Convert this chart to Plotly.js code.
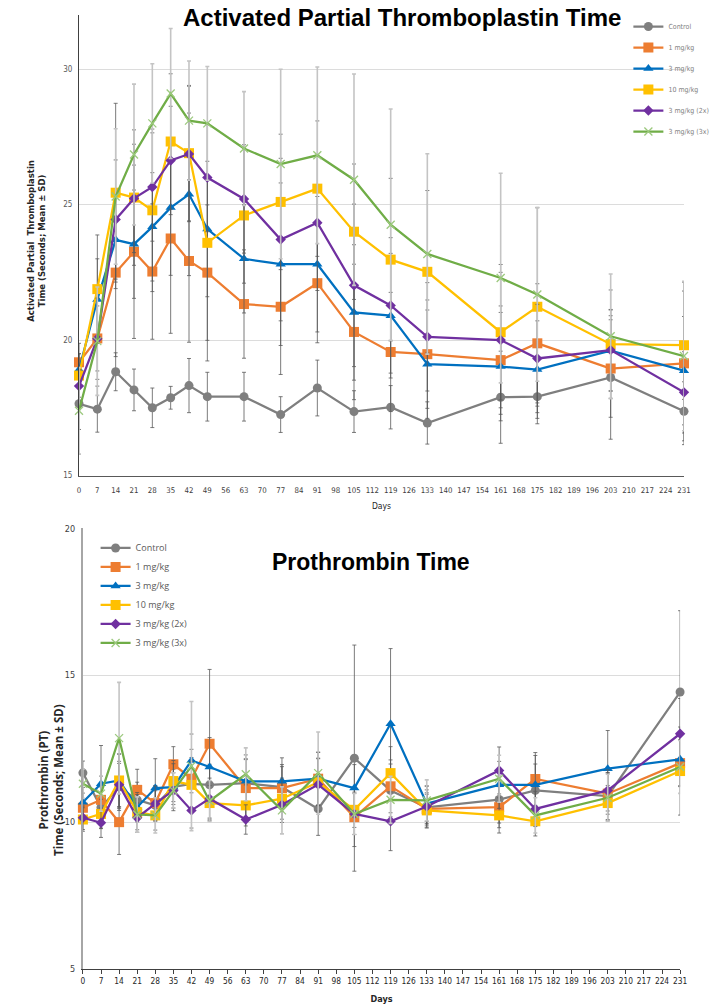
<!DOCTYPE html>
<html>
<head>
<meta charset="utf-8">
<script src="https://cdn.plot.ly/plotly-3.0.1.min.js"></script>
<style>html,body{margin:0;padding:0;background:#fff;}#chart{width:726px;height:1008px;}</style>
</head>
<body>
<div id="chart"></div>
<script>
// ---------- DATA ----------
const seriesNames = ['Control', '1 mg/kg', '3 mg/kg', '10 mg/kg', '3 mg/kg (2x)', '3 mg/kg (3x)'];
const days = [0, 7, 14, 21, 28, 35, 42, 49, 63, 77, 91, 105, 119, 133, 161, 175, 203, 231];
const dayTicks = [0, 7, 14, 21, 28, 35, 42, 49, 56, 63, 70, 77, 84, 91, 98, 105, 112, 119, 126, 133, 140, 147, 154, 161, 168, 175, 182, 189, 196, 203, 210, 217, 224, 231];
const dayTickLabels = ['0','7','14','21','28','35','42','49','56','63','70','77','84','91','98','105','112','119','126','133','140','147','154','161','168','175','182','189','196','203','210','217','224','231'];

// APTT (seconds, mean)
const apttControl = [17.65, 17.45, 18.83, 18.16, 17.5, 17.87, 18.32, 17.91, 17.91, 17.25, 18.23, 17.36, 17.52, 16.94, 17.89, 17.91, 18.62, 17.37];
const aptt1 = [19.18, 20.06, 22.49, 23.26, 22.53, 23.75, 22.92, 22.49, 21.33, 21.23, 22.1, 20.3, 19.56, 19.48, 19.26, 19.88, 18.95, 19.14];
const aptt3 = [18.9, 21.5, 23.7, 23.54, 24.18, 24.89, 25.38, 24.1, 23.0, 22.8, 22.8, 21.02, 20.9, 19.11, 19.02, 18.91, 19.61, 18.87];
const aptt10 = [18.69, 21.88, 25.44, 25.26, 24.79, 27.33, 26.9, 23.59, 24.6, 25.1, 25.59, 24.0, 22.97, 22.52, 20.29, 21.23, 19.85, 19.81];
const aptt3x2 = [18.3, 20.05, 24.45, 25.23, 25.65, 26.63, 26.87, 26.0, 25.21, 23.71, 24.33, 22.02, 21.28, 20.12, 20.0, 19.32, 19.63, 18.07];
const aptt3x3 = [17.39, 19.96, 25.3, 26.85, 28.0, 29.1, 28.1, 28.0, 27.07, 26.5, 26.82, 25.92, 24.26, 23.18, 22.29, 21.68, 20.14, 19.41];
// APTT SD
const apttControlSd = [0.95, 0.85, 0.7, 0.77, 0.73, 0.42, 1.0, 0.9, 0.9, 0.66, 1.03, 0.77, 0.8, 0.78, 1.7, 1.0, 2.28, 1.09];
const aptt1Sd = [0.7, 1.2, 3.1, 3.2, 2.5, 3.5, 3.0, 2.5, 2.0, 2.5, 2.2, 2.5, 2.2, 2.0, 2.0, 2.2, 1.8, 3.0];
const aptt3Sd = [0.6, 1.5, 1.8, 2.0, 2.0, 2.5, 3.0, 2.5, 2.0, 3.0, 2.5, 2.5, 2.3, 2.0, 2.0, 1.8, 1.5, 2.0];
const aptt10Sd = [0.8, 2.0, 3.3, 2.5, 3.0, 2.5, 2.5, 4.36, 2.5, 2.5, 2.5, 2.5, 3.0, 3.0, 2.5, 3.67, 2.0, 2.0];
const aptt3x2Sd = [0.6, 1.5, 2.2, 2.0, 2.0, 2.0, 2.5, 2.0, 2.0, 3.0, 2.5, 3.0, 2.5, 2.0, 2.5, 2.0, 1.5, 1.5];
const aptt3x3Sd = [1.6, 2.0, 2.5, 2.6, 2.2, 2.4, 2.2, 2.1, 2.1, 3.5, 3.26, 3.9, 4.27, 3.7, 3.87, 3.2, 2.3, 2.76];

// PT (seconds, mean)
const ptControl = [11.68, 10.5, 11.2, 10.76, 10.57, 11.2, 11.3, 11.27, 11.33, 11.19, 10.45, 12.18, 11.08, 10.5, 10.77, 11.08, 10.89, 14.43];
const pt1 = [10.49, 10.76, 10.0, 11.1, 10.65, 11.97, 11.48, 12.67, 11.16, 11.16, 11.48, 10.17, 11.22, 10.45, 10.51, 11.47, 10.97, 12.01];
const pt3 = [10.68, 11.31, 11.42, 10.51, 11.16, 11.19, 12.1, 11.88, 11.39, 11.39, 11.48, 11.16, 13.35, 10.63, 11.27, 11.27, 11.82, 12.14];
const pt10 = [10.09, 10.28, 11.42, 10.34, 10.23, 11.4, 11.27, 10.65, 10.57, 10.8, 11.36, 10.42, 11.67, 10.4, 10.23, 10.03, 10.65, 11.74];
const pt3x2 = [10.15, 9.98, 11.27, 10.15, 10.63, 11.08, 10.4, 10.8, 10.09, 10.59, 11.28, 10.28, 10.03, 10.53, 11.76, 10.45, 11.08, 13.01];
const pt3x3 = [11.31, 10.97, 12.86, 10.26, 10.23, 11.08, 11.91, 10.72, 11.63, 10.4, 11.67, 10.28, 10.76, 10.74, 11.48, 10.23, 10.83, 11.88];
// PT SD
const ptControlSd = [0.4, 0.7, 0.8, 0.6, 0.5, 0.6, 0.9, 0.7, 0.8, 0.7, 0.9, 3.85, 0.9, 0.6, 0.8, 0.9, 0.8, 2.77];
const pt1Sd = [0.5, 0.8, 1.1, 0.7, 0.6, 0.6, 1.0, 2.53, 1.0, 0.8, 0.9, 1.0, 0.9, 0.5, 0.7, 0.9, 0.7, 0.8];
const pt3Sd = [0.5, 1.3, 0.9, 0.5, 1.0, 0.8, 0.9, 1.0, 0.9, 0.8, 0.9, 0.8, 2.56, 0.6, 0.8, 1.0, 1.3, 0.9];
const pt10Sd = [0.4, 0.5, 0.9, 0.6, 0.5, 0.7, 0.8, 0.6, 0.7, 0.7, 0.8, 0.6, 0.9, 0.6, 0.6, 0.5, 0.6, 1.5];
const pt3x2Sd = [0.4, 0.5, 0.8, 0.5, 0.6, 0.6, 0.6, 0.7, 0.5, 0.6, 0.9, 0.7, 1.0, 0.7, 0.8, 0.6, 0.7, 1.2];
const pt3x3Sd = [0.5, 0.6, 1.9, 0.6, 0.6, 0.6, 2.2, 0.7, 0.9, 0.8, 1.4, 0.7, 0.8, 0.7, 0.8, 0.6, 0.8, 0.9];

// ---------- STYLE ----------
const colors = ['#7f7f7f', '#ed7d31', '#0070c0', '#ffc000', '#7030a0', '#70ad47'];
const symbols = ['circle', 'square', 'triangle-up', 'square', 'diamond', 'x-thin-open'];
const sizes = [9, 10, 9, 10, 8, 8];
const narrow = '"Liberation Sans Narrow", "DejaVu Sans Condensed", "Arial Narrow", sans-serif';

const apttMeans = [apttControl, aptt1, aptt3, aptt10, aptt3x2, aptt3x3];
const apttSds = [apttControlSd, aptt1Sd, aptt3Sd, aptt10Sd, aptt3x2Sd, aptt3x3Sd];
const ptMeans = [ptControl, pt1, pt3, pt10, pt3x2, pt3x3];
const ptSds = [ptControlSd, pt1Sd, pt3Sd, pt10Sd, pt3x2Sd, pt3x3Sd];

function makeTrace(i, y, sd, xa, ya, leg, grp) {
  const isX = symbols[i] === 'x-thin-open';
  return {
    type: 'scatter', mode: 'lines+markers',
    x: days, y: y, name: seriesNames[i],
    xaxis: xa, yaxis: ya, legend: leg, legendgroup: grp + i,
    cliponaxis: false,
    line: {color: colors[i], width: 2.25},
    marker: isX ? {symbol: 'x-thin-open', size: sizes[i], color: '#9cc97e', line: {color: '#9cc97e', width: 1.3}}
                : {symbol: symbols[i], size: sizes[i], color: colors[i]},
    error_y: {type: 'data', array: sd, visible: true,
              color: isX ? '#c4c4c4' : '#595959', thickness: isX ? 1.6 : 0.8, width: 2},
    hoverinfo: 'skip'
  };
}

const traces = [];
for (let i = 0; i < 6; i++) traces.push(makeTrace(i, apttMeans[i], apttSds[i], 'x', 'y', 'legend', 'a'));
for (let i = 0; i < 6; i++) traces.push(makeTrace(i, ptMeans[i], ptSds[i], 'x2', 'y2', 'legend2', 'p'));

// pixel helpers (plot area: l=79, r=27, t=14, b=39 -> 620 x 955)
const PX = p => (p - 79) / 620;
const PY = p => (969 - p) / 955;

const layout = {
  width: 726, height: 1008,
  margin: {l: 79, r: 27, t: 14, b: 39, pad: 0},
  paper_bgcolor: '#ffffff', plot_bgcolor: '#ffffff',
  font: {family: narrow, color: '#404040'},
  showlegend: true,
  xaxis: {
    domain: [0, 1], anchor: 'y', range: [0, 231],
    tickmode: 'array', tickvals: dayTicks, ticktext: dayTickLabels, tickangle: 0,
    tickfont: {size: 7.8, color: '#404040', family: narrow},
    showgrid: false, zeroline: false, showline: true, linecolor: '#595959', linewidth: 1,
    ticks: '', ticklabelstandoff: 7,
    title: {text: 'Days', font: {size: 8.5, color: '#262626', family: narrow}, standoff: 9}
  },
  yaxis: {
    domain: [PY(475), 1], anchor: 'x', range: [15, 32],
    tickmode: 'array', tickvals: [15, 20, 25, 30],
    tickfont: {size: 8, color: '#595959', family: narrow},
    showgrid: true, gridcolor: '#dcdcdc', gridwidth: 1,
    zeroline: false, showline: true, linecolor: '#404040', linewidth: 1, ticks: '', ticklabelstandoff: 4
  },
  xaxis2: {
    domain: [PX(83), PX(695)], anchor: 'y2', range: [0, 231],
    tickmode: 'array', tickvals: dayTicks, ticktext: dayTickLabels, tickangle: 0,
    tickfont: {size: 8.3, color: '#262626', family: narrow},
    showgrid: false, zeroline: false, showline: true, linecolor: '#404040', linewidth: 1,
    ticks: 'outside', ticklen: 4, tickcolor: '#404040', tickwidth: 1,
    title: {text: '<b>Days</b>', font: {size: 9, color: '#262626', family: narrow}, standoff: 10}
  },
  yaxis2: {
    domain: [0, PY(528)], anchor: 'x2', range: [5, 20],
    tickmode: 'array', tickvals: [5, 10, 15, 20],
    tickfont: {size: 9, color: '#404040', family: narrow},
    showgrid: true, gridcolor: '#dcdcdc', gridwidth: 1,
    zeroline: false, showline: true, linecolor: '#a6a6a6', linewidth: 2, ticks: '', ticklabelstandoff: 4
  },
  legend: {
    x: PX(642), y: PY(11), xanchor: 'left', yanchor: 'top',
    bgcolor: 'rgba(0,0,0,0)', font: {size: 7, color: '#7f7f7f', family: narrow},
    tracegroupgap: 2, traceorder: 'grouped', itemclick: false
  },
  legend2: {
    x: PX(96), y: PY(533), xanchor: 'left', yanchor: 'top',
    bgcolor: 'rgba(0,0,0,0)', font: {size: 9, color: '#595959', family: '"Open Sans", "Noto Sans", sans-serif'},
    tracegroupgap: 0, traceorder: 'grouped', itemclick: false
  },
  annotations: [
    {text: '<b>Activated Partial Thromboplastin Time</b>', xref: 'paper', yref: 'paper',
     x: PX(410), y: PY(17), xanchor: 'center', yanchor: 'middle', showarrow: false,
     font: {size: 24, color: '#000000', family: '"Liberation Sans", Arial, sans-serif'}},
    {text: '<b>Prothrombin Time</b>', xref: 'paper', yref: 'paper',
     x: PX(378), y: PY(562), xanchor: 'center', yanchor: 'middle', showarrow: false,
     font: {size: 23, color: '#000000', family: '"Liberation Sans", Arial, sans-serif'}},
    {text: '<b>Activated Partial  Thromboplastin<br>Time (Seconds; Mean ± SD)</b>', xref: 'paper', yref: 'paper',
     x: PX(36), y: PY(240), xanchor: 'center', yanchor: 'middle', showarrow: false, textangle: -90,
     font: {size: 8.5, color: '#262626', family: '"DejaVu Sans", Verdana, sans-serif'}},
    {text: '<b>Prothrombin (PT)<br>Time (Seconds; Mean ± SD)</b>', xref: 'paper', yref: 'paper',
     x: PX(51), y: PY(780), xanchor: 'center', yanchor: 'middle', showarrow: false, textangle: -90,
     font: {size: 11.5, color: '#262626', family: '"Open Sans", "Noto Sans", sans-serif'}}
  ]
};

Plotly.newPlot('chart', traces, layout, {displayModeBar: false, staticPlot: true});
</script>
</body>
</html>
